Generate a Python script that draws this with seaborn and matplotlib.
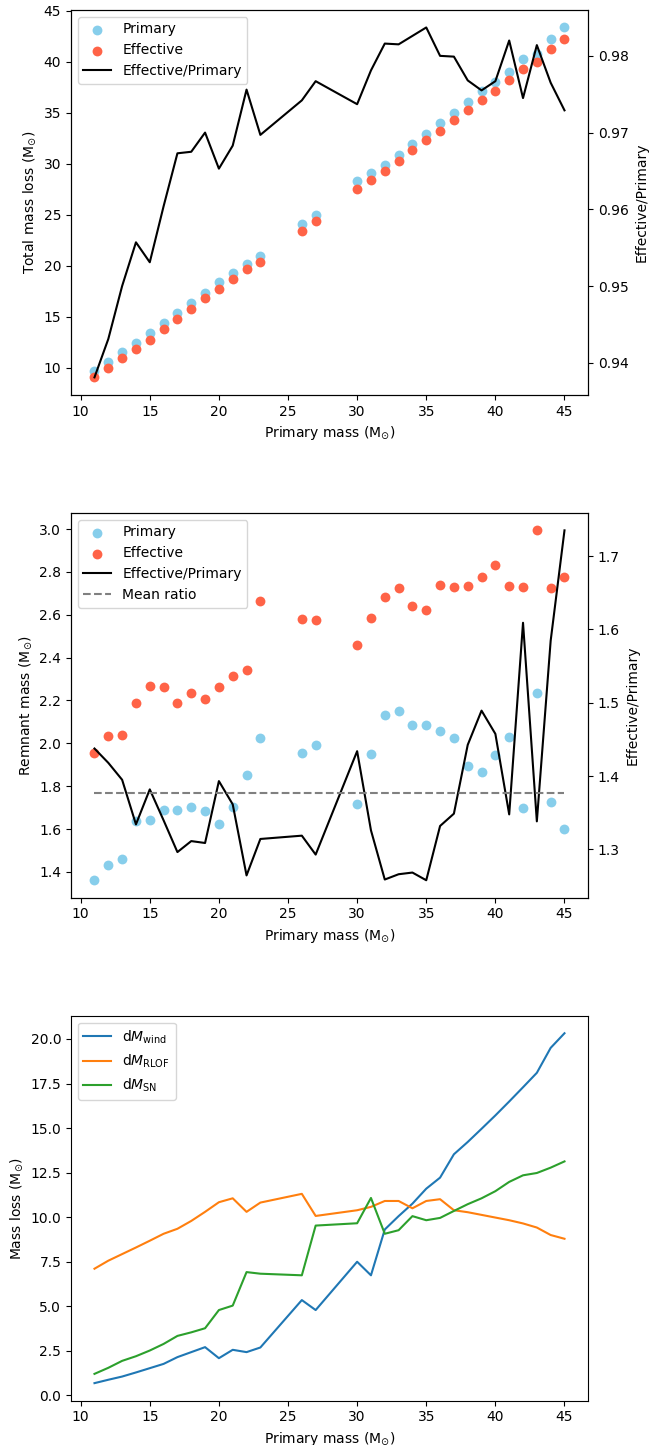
import numpy as np
import pandas as pd
import matplotlib
matplotlib.use("Agg")
import matplotlib.pyplot as plt
import seaborn as sns

# ---------------- data ----------------
primary_mass = [11, 12, 13, 14, 15, 16, 17, 18, 19, 20, 21, 22, 23, 26, 27,
                30, 31, 32, 33, 34, 35, 36, 37, 38, 39, 40, 41, 42, 43, 44, 45]

loss_primary = [9.67, 10.59, 11.57, 12.39, 13.37, 14.35, 15.33, 16.31, 17.35, 18.37,
                19.31, 20.16, 20.98, 24.05, 25.00, 28.30, 29.08, 29.90, 30.88, 31.93,
                32.94, 33.95, 34.97, 36.08, 37.16, 38.04, 38.99, 40.29, 40.75, 42.25, 43.36]
loss_effective = [9.05, 9.97, 10.98, 11.83, 12.75, 13.76, 14.80, 15.78, 16.80, 17.75,
                  18.69, 19.67, 20.33, 23.43, 24.41, 27.52, 28.40, 29.31, 30.26, 31.34,
                  32.35, 33.24, 34.25, 35.26, 36.21, 37.16, 38.24, 39.28, 40.00, 41.27, 42.19]
loss_ratio = [0.9381, 0.9431, 0.9500, 0.9557, 0.9531, 0.9604, 0.9673, 0.9675, 0.9700, 0.9653,
              0.9683, 0.9756, 0.9697, 0.9742, 0.9767, 0.9737, 0.9781, 0.9816, 0.9815, 0.9826,
              0.9837, 0.9800, 0.9799, 0.9768, 0.9755, 0.9767, 0.9820, 0.9745, 0.9814, 0.9765, 0.9729]

rem_primary = [1.361, 1.434, 1.462, 1.638, 1.643, 1.689, 1.689, 1.705, 1.686, 1.624,
               1.705, 1.853, 2.027, 1.957, 1.993, 1.715, 1.949, 2.131, 2.153, 2.084,
               2.086, 2.059, 2.027, 1.896, 1.865, 1.944, 2.030, 1.696, 2.237, 1.728, 1.601]
rem_effective = [1.955, 2.036, 2.039, 2.187, 2.269, 2.263, 2.190, 2.235, 2.207, 2.263,
                 2.316, 2.344, 2.663, 2.580, 2.577, 2.458, 2.587, 2.683, 2.725, 2.643,
                 2.624, 2.741, 2.731, 2.734, 2.778, 2.834, 2.734, 2.728, 2.994, 2.727, 2.776]
rem_ratio = [1.4376, 1.4181, 1.3950, 1.3342, 1.3819, 1.3397, 1.2964, 1.3114, 1.3088, 1.3932,
             1.3615, 1.2646, 1.3143, 1.3188, 1.2930, 1.4340, 1.3261, 1.2590, 1.2662, 1.2685,
             1.2580, 1.3320, 1.3488, 1.4426, 1.4893, 1.4576, 1.3478, 1.6091, 1.3383, 1.5846, 1.7351]

dm_wind = [0.69, 0.88, 1.06, 1.29, 1.53, 1.77, 2.15, 2.43, 2.71, 2.09,
           2.56, 2.43, 2.69, 5.35, 4.79, 7.50, 6.74, 9.31, 10.06, 10.76,
           11.60, 12.22, 13.53, 14.22, 14.96, 15.71, 16.49, 17.29, 18.10, 19.50, 20.32]
dm_rlof = [7.11, 7.56, 7.93, 8.30, 8.68, 9.07, 9.35, 9.79, 10.30, 10.84,
           11.06, 10.30, 10.82, 11.31, 10.07, 10.39, 10.58, 10.91, 10.91, 10.50,
           10.91, 11.01, 10.39, 10.28, 10.13, 9.98, 9.83, 9.65, 9.42, 9.00, 8.79]
dm_sn = [1.21, 1.55, 1.94, 2.20, 2.52, 2.89, 3.34, 3.54, 3.77, 4.79,
         5.04, 6.92, 6.83, 6.74, 9.53, 9.66, 11.08, 9.07, 9.27, 10.06,
         9.83, 9.96, 10.35, 10.73, 11.06, 11.46, 11.98, 12.35, 12.48, 12.78, 13.13]

df = pd.DataFrame({
    "m": primary_mass,
    "loss_p": loss_primary, "loss_e": loss_effective, "loss_r": loss_ratio,
    "rem_p": rem_primary, "rem_e": rem_effective, "rem_r": rem_ratio,
    "wind": dm_wind, "rlof": dm_rlof, "sn": dm_sn,
})

# ---------------- figure ----------------
plt.rcParams["font.family"] = ["DejaVu Sans"]
plt.rcParams["font.size"] = 10

fig, axes = plt.subplots(3, 1, figsize=(6.5, 14.45), dpi=100)
fig.subplots_adjust(left=0.1092, right=0.9046, top=0.9931, bottom=0.0307, hspace=0.3066)

xlabel = r"Primary mass (M$_{\odot}$)"
c_p, c_e = "skyblue", "tomato"
ms = 50


def merged_legend(ax, ax2):
    h1, l1 = ax.get_legend_handles_labels()
    h2, l2 = ax2.get_legend_handles_labels()
    for a in (ax, ax2):
        if a.get_legend():
            a.get_legend().remove()
    ax2.legend(h1 + h2, l1 + l2, loc="upper left")


# Panel 1
ax = axes[0]
sns.scatterplot(data=df, x="m", y="loss_p", ax=ax, color=c_p, s=ms, linewidth=0, label="Primary")
sns.scatterplot(data=df, x="m", y="loss_e", ax=ax, color=c_e, s=ms, linewidth=0, label="Effective")
ax2 = ax.twinx()
sns.lineplot(data=df, x="m", y="loss_r", ax=ax2, color="black", linewidth=1.5,
             estimator=None, label="Effective/Primary")
ax.set_xlabel(xlabel)
ax.set_ylabel(r"Total mass loss (M$_{\odot}$)")
ax2.set_ylabel("Effective/Primary")
ax.set_yticks([10, 15, 20, 25, 30, 35, 40, 45])
ax2.set_yticks([0.94, 0.95, 0.96, 0.97, 0.98])
merged_legend(ax, ax2)

# Panel 2
ax = axes[1]
sns.scatterplot(data=df, x="m", y="rem_p", ax=ax, color=c_p, s=ms, linewidth=0, label="Primary")
sns.scatterplot(data=df, x="m", y="rem_e", ax=ax, color=c_e, s=ms, linewidth=0, label="Effective")
ax2 = ax.twinx()
sns.lineplot(data=df, x="m", y="rem_r", ax=ax2, color="black", linewidth=1.5,
             estimator=None, label="Effective/Primary")
mean_ratio = float(np.mean(rem_ratio))
ax2.hlines(mean_ratio, min(primary_mass), max(primary_mass), colors="gray",
           linestyles="--", linewidth=1.5, label="Mean ratio")
ax.set_xlabel(xlabel)
ax.set_ylabel(r"Remnant mass (M$_{\odot}$)")
ax2.set_ylabel("Effective/Primary")
ax2.set_yticks([1.3, 1.4, 1.5, 1.6, 1.7])
merged_legend(ax, ax2)

# Panel 3
ax = axes[2]
sns.lineplot(data=df, x="m", y="wind", ax=ax, color="tab:blue", linewidth=1.5,
             estimator=None, label=r"d$M_{\rm wind}$")
sns.lineplot(data=df, x="m", y="rlof", ax=ax, color="tab:orange", linewidth=1.5,
             estimator=None, label=r"d$M_{\rm RLOF}$")
sns.lineplot(data=df, x="m", y="sn", ax=ax, color="tab:green", linewidth=1.5,
             estimator=None, label=r"d$M_{\rm SN}$")
ax.set_xlabel(xlabel)
ax.set_ylabel(r"Mass loss (M$_{\odot}$)")
ax.legend(loc="upper left")

for a in axes:
    a.set_xticks([10, 15, 20, 25, 30, 35, 40, 45])

fig.savefig("out.png", dpi=100)
